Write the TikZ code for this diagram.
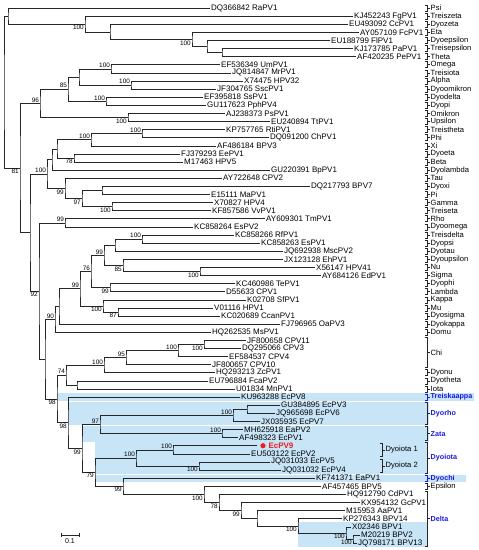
\documentclass[tikz,border=0pt]{standalone}
\usepackage{fontspec}
\setmainfont{Liberation Sans}
\usetikzlibrary{calc}

\definecolor{bandblue}{RGB}{200,229,247}
\definecolor{cladeblue}{RGB}{25,25,230}
\definecolor{virusred}{RGB}{235,30,30}

\tikzset{
  branch/.style={draw=black!85, line width=0.55bp},
  leaf/.style={anchor=west, inner sep=1bp, font=\fontsize{8bp}{9bp}\selectfont},
  genus/.style={anchor=west, inner sep=0.5bp, font=\fontsize{7.6bp}{9bp}\selectfont},
  bluegenus/.style={genus, text=cladeblue, font=\fontsize{7.2bp}{9bp}\selectfont\bfseries},
  bootup/.style={anchor=south east, inner sep=0.9bp, font=\fontsize{6.4bp}{7bp}\selectfont},
  bootdown/.style={anchor=north east, inner sep=1.1bp, font=\fontsize{6.4bp}{7bp}\selectfont},
  band/.style={fill=bandblue, draw=none}
}

% join two children at a given x, halfway between them
\newcommand\joinclade[4]{%
  \coordinate (#1m) at ($(#3)!0.5!(#4)$);
  \coordinate (#1) at (#2,0 |- #1m);
  \draw[branch] (#3) -| (#1) |- (#4);
}

\begin{document}
\begin{tikzpicture}[x=1bp, y=-1bp]
    \useasboundingbox (0,0) rectangle (479,550);

    % Draw the blue bands behind the equine clades
    \fill[band] (57,393.1) rectangle (474,401.1);
    \fill[band] (68,401.6) rectangle (429,425.4);
    \fill[band] (82,425.9) rectangle (429,441.6);
    \fill[band] (95,442.1) rectangle (428,474.0);
    \fill[band] (95,474.5) rectangle (466,482.2);
    \fill[band] (298,521.5) rectangle (427,547.0);

    % Draw leaf tips and their labels
    \foreach \e/\t [count=\i] in {210/DQ366842 RaPV1, 353/KJ452243 FgPV1, 348/EU493092 CcPV1,
        359/AY057109 FcPV1, 330/EU188799 FlPV1, 353/KJ173785 PaPV1, 356/AF420235 PePV1,
        220/EF536349 UmPV1, 231/JQ814847 MrPV1, 243/X74475 HPV32, 216/JF304765 SscPV1,
        203/EF395818 SsPV1, 206/GU117623 PphPV4, 225/AJ238373 PsPV1, 270/EU240894 TtPV1,
        225/KP757765 RtiPV1, 269/DQ091200 ChPV1, 216/AF486184 BPV3, 180/FJ379293 EePV1,
        183/M17463 HPV5, 270/GU220391 BpPV1, 222/AY722648 CPV2, 310/DQ217793 BPV7,
        210/E15111 MaPV1, 213/X70827 HPV4, 211/KF857586 VvPV1, 265/AY609301 TmPV1,
        193/KC858264 EsPV2, 234/KC858266 RfPV1, 260/KC858263 EsPV1, 283/JQ692938 MscPV2,
        283/JX123128 EhPV1, 315/X56147 HPV41, 321/AY684126 EdPV1, 235/KC460986 TePV1,
        225/D55633 CPV1, 246/K02708 SfPV1, 213/V01116 HPV1, 220/KC020689 CcanPV1,
        280/FJ796965 OaPV3, 211/HQ262535 MsPV1, 246/JF800658 CPV11, 241/DQ295066 CPV3,
        228/EF584537 CPV4, 211/JF800657 CPV10, 215/HQ293213 ZcPV1, 208/EU796884 FcaPV2,
        235/U01834 MnPV1, 240/KU963288 EcPV8, 280/GU384895 EcPV3, 275/JQ965698 EcPV6,
        260/JX035935 EcPV7, 243/MH625918 EaPV2, 238/AF498323 EcPV1, 257/{},
        250/EU503122 EcPV2, 270/JQ031033 EcPV5, 281/JQ031032 EcPV4, 315/KF741371 EaPV1,
        321/AF457465 BPV5, 346/HQ912790 CdPV1, 360/KX954132 GcPV1, 345/M15953 AaPV1,
        342/KP276343 BPV14, 351/X02346 BPV1, 360/M20219 BPV2, 357/JQ798171 BPV13} {
        \coordinate (L\i) at (\e,{8+(\i-1)*8.106});
        \node[leaf] (T\i) at (L\i) {\t};
    }

    % The new virus
    \node[circle, fill=virusred, inner sep=0pt, minimum size=5.2bp] (dot) at ($(L55)+(6,0)$) {};
    \node[leaf, text=virusred, font=\fontsize{8bp}{9bp}\selectfont\bfseries] (T55) at ($(dot.east)+(1.5,0)$) {EcPV9};

    % Draw the upper clades
    \joinclade{t5}{222}{L6}{L7}
    \joinclade{t4}{207}{L5}{t5}
    \joinclade{t3}{192}{L4}{t4}
    \joinclade{t2}{110}{L3}{t3}
    \joinclade{t1}{85}{L2}{t2}
    \joinclade{t0}{8}{L1}{t1}

    \joinclade{a8}{111}{L8}{L9}
    \joinclade{a10}{131}{L10}{L11}
    \joinclade{a79}{79}{a8}{a10}
    \joinclade{a12}{106}{L12}{L13}
    \joinclade{a85}{68}{a79}{a12}
    \joinclade{a14}{128}{L14}{L15}
    \joinclade{a96}{40}{a85}{a14}

    \joinclade{b16}{142}{L16}{L17}
    \joinclade{b91}{91}{b16}{L18}
    \joinclade{b19}{74}{L19}{L20}
    \joinclade{b57}{57}{b91}{b19}
    \joinclade{b52}{52}{b57}{L21}
    \joinclade{b23}{102}{L23}{L24}
    \joinclade{b25}{112}{L25}{L26}
    \joinclade{b97}{82}{b23}{b25}
    \joinclade{b65}{65}{L22}{b97}
    \joinclade{b47}{47}{b52}{b65}

    % Draw the middle clades
    \joinclade{c27}{65}{L27}{L28}
    \joinclade{c29}{142}{L29}{L30}
    \joinclade{c115}{115}{c29}{L31}
    \joinclade{c33}{200}{L33}{L34}
    \joinclade{c123}{123}{L32}{c33}
    \joinclade{c104}{104}{c115}{c123}
    \joinclade{c35}{110}{L35}{L36}
    \joinclade{c91}{91}{c104}{c35}
    \joinclade{c38}{118}{L38}{L39}
    \joinclade{c103}{103}{L37}{c38}
    \joinclade{c80}{80}{c91}{c103}
    \joinclade{c59}{59}{c80}{L40}
    \joinclade{c55}{55}{c59}{L41}

    % Draw the lower clades
    \joinclade{d42}{204}{L42}{L43}
    \joinclade{d178}{178}{d42}{L44}
    \joinclade{d126}{126}{d178}{L45}
    \joinclade{d104}{104}{d126}{L46}
    \joinclade{d47}{77}{L47}{L48}
    \joinclade{d66}{66}{d104}{d47}
    \joinclade{e50}{247}{L50}{L51}
    \joinclade{e233}{233}{e50}{L52}
    \joinclade{e53}{222}{L53}{L54}
    \joinclade{e97}{100}{e233}{e53}
    \joinclade{f55}{173}{L55}{L56}
    \joinclade{f57}{199}{L57}{L58}
    \joinclade{f136}{136}{f55}{f57}
    \joinclade{g3}{353}{L66}{L67}
    \joinclade{g2}{346}{L65}{g3}
    \joinclade{g1}{298}{L64}{g2}
    \joinclade{g257}{257}{L63}{g1}
    \joinclade{g241}{241}{L62}{g257}
    \joinclade{g219}{219}{L61}{g241}
    \joinclade{g204}{204}{L60}{g219}
    \joinclade{g123}{123}{L59}{g204}
    \joinclade{f95}{95}{f136}{g123}
    \joinclade{e82}{82}{e97}{f95}
    \joinclade{e68}{68}{L49}{e82}
    \joinclade{d57}{57}{d66}{e68}

    % Draw the backbone
    \joinclade{c45}{45}{c55}{d57}
    \joinclade{c39}{39}{c27}{c45}
    \joinclade{b30}{30}{b47}{c39}
    \joinclade{r81}{20}{a96}{b30}
    \joinclade{root}{4}{t0}{r81}

    % Bootstrap values above the incoming branch
    \foreach \n/\v in {a8/100, a10/100, a12/100, a85/85, a96/96, b16/100, b91/100, b47/100,
        c27/99, c29/100, c104/99, c91/76, c80/99, c55/90, d178/100, d126/95, d104/100,
        d66/74, e233/100, e53/100, e97/97, f55/100, f136/100} {
        \node[bootup] (bs-\n) at (\n) {\v};
    }
    % Bootstrap values below the incoming branch
    \foreach \n/\v in {t1/100, t3/100, a14/100, b19/78, b25/100, b97/97, b65/99, c33/100,
        c123/85, c35/99, c38/87, c103/100, c39/92, r81/81, d42/100, d57/98, e68/98, e82/99,
        f57/100, f95/79, g123/99, g204/100, g219/78, g241/99, g1/100, g2/100, g3/100} {
        \node[bootdown] (bs-\n) at (\n) {\v};
    }

    % Draw genus markers for single leaves
    \foreach \i/\g in {1/Psi, 2/Treiszeta, 3/Dyozeta, 4/Eta, 5/Dyoepsilon, 6/Treisepsilon,
        7/Theta, 8/Omega, 9/Treisiota, 10/Alpha, 11/Dyoomikron, 12/Dyodelta, 13/Dyopi,
        14/Omikron, 15/Upsilon, 16/Treistheta, 17/Phi, 18/Xi, 19/Dyoeta, 20/Beta,
        21/Dyolambda, 22/Tau, 23/Dyoxi, 24/Pi, 25/Gamma, 26/Treiseta, 27/Rho, 28/Dyoomega,
        29/Treisdelta, 30/Dyopsi, 31/Dyotau, 32/Dyoupsilon, 33/Nu, 34/Sigma, 35/Dyophi,
        36/Lambda, 37/Kappa, 38/Mu, 39/Dyosigma, 40/Dyokappa, 41/Domu, 46/Dyonu,
        47/Dyotheta, 48/Iota, 60/Epsilon} {
        \pgfmathsetmacro\yy{8+(\i-1)*8.106}
        \draw[branch] (424.5,\yy-3) -- (427,\yy-3) -- (427,\yy+3) -- (424.5,\yy+3) (427,\yy) -- (430,\yy);
        \node[genus] (G\i) at (430,\yy) {\g};
    }
    \foreach \i/\g in {49/Treiskaappa, 59/Dyochi} {
        \pgfmathsetmacro\yy{8+(\i-1)*8.106}
        \draw[branch, draw=cladeblue] (424.5,\yy-3) -- (427,\yy-3) -- (427,\yy+3) -- (424.5,\yy+3) (427,\yy) -- (430,\yy);
        \node[bluegenus] (G\i) at (430,\yy) {\g};
    }

    % Draw brackets for genera with several leaves
    \draw[branch] (424.5,337.5) -- (427,337.5) -- (427,367.5) -- (424.5,367.5) (427,352.5) -- (430,352.5);
    \node[genus] (G-chi) at (430,352.5) {Chi};
    \draw[branch] (424.5,402.2) -- (427,402.2) -- (427,424.4) -- (424.5,424.4) (427,413.3) -- (430,413.3);
    \node[bluegenus] (G-dyorho) at (430,413.3) {Dyorho};
    \draw[branch] (424.5,426.5) -- (427,426.5) -- (427,440.6) -- (424.5,440.6) (427,433.6) -- (430,433.6);
    \node[bluegenus] (G-zata) at (430,433.6) {Zata};
    \draw[branch] (424.5,442.7) -- (427,442.7) -- (427,473.0) -- (424.5,473.0) (427,457.9) -- (430,457.9);
    \node[bluegenus] (G-dyoiota) at (430,457.9) {Dyoiota};
    \draw[branch] (424.5,491.4) -- (427,491.4) -- (427,546.0) -- (424.5,546.0) (427,518.7) -- (430,518.7);
    \node[bluegenus] (G-delta) at (430,518.7) {Delta};

    % Dyoiota species groups
    \draw[branch] (379.5,443.2) -- (382,443.2) -- (382,456.3) -- (379.5,456.3) (382,449.8) -- (385,449.8);
    \node[genus] (G-dyoiota1) at (385,449.8) {Dyoiota 1};
    \draw[branch] (379.5,459.4) -- (382,459.4) -- (382,472.5) -- (379.5,472.5) (382,466.0) -- (385,466.0);
    \node[genus] (G-dyoiota2) at (385,466.0) {Dyoiota 2};

    % Draw the scale bar
    \coordinate (s0) at (61,535);
    \coordinate (s1) at (79,535);
    \draw[branch] (s0) -- (s1);
    \draw[branch] ($(s0)+(0,-1.6)$) -- ($(s0)+(0,1.6)$);
    \draw[branch] ($(s1)+(0,-1.6)$) -- ($(s1)+(0,1.6)$);
    \node[font=\fontsize{7bp}{8bp}\selectfont, inner sep=0.5bp] (scale) at (70,541.5) {0.1};
\end{tikzpicture}
\end{document}
